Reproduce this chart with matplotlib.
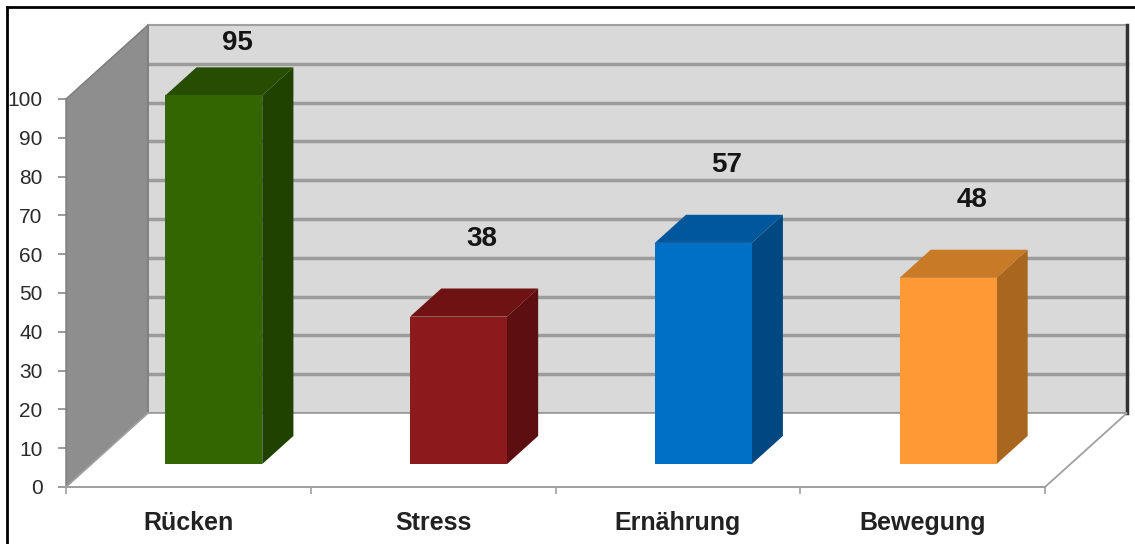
import matplotlib
matplotlib.use("Agg")
import matplotlib.pyplot as plt
from matplotlib.patches import Polygon, Rectangle
from matplotlib.lines import Line2D

categories = ["Rücken", "Stress", "Ernährung", "Bewegung"]
values = [95, 38, 57, 48]
front_colors = ["#336600", "#8c1a1c", "#0070c6", "#fd9a35"]
top_colors = ["#264d00", "#6e1214", "#00579c", "#c97a26"]
side_colors = ["#1f4200", "#5c0e10", "#00487f", "#a9661f"]
yticks = list(range(0, 101, 10))

FONT = ["Liberation Sans", "DejaVu Sans"]

fig = plt.figure(figsize=(11.35, 5.44), dpi=100)
fig.patch.set_facecolor("white")

# front plane of the 3d box
ax = fig.add_axes([66 / 1135, 57 / 544, 979 / 1135, 388 / 544])
ax.set_xlim(0, 4)
ax.set_ylim(0, 100)
ax.patch.set_alpha(0)

DX = 0.335   # depth shift in x (category units)
DY = 19.07   # depth shift in y (value units)
f1, f2 = 0.31, 0.69   # bar front / back depth
bw = 0.396

# back wall
ax.add_patch(Rectangle((DX, DY), 4, 100, facecolor="#d9d9d9", edgecolor="#a0a0a0",
                       lw=1.5, zorder=1, clip_on=False))
for v in yticks[1:-1]:
    ax.add_line(Line2D([DX, 4 + DX], [v + DY, v + DY], color="#9c9c9c", lw=2.5,
                       zorder=2, clip_on=False))
ax.add_line(Line2D([DX, 4 + DX], [DY, DY], color="#5a5a5a", lw=2, zorder=2, clip_on=False))
ax.add_line(Line2D([4 + DX, 4 + DX], [DY, 100 + DY], color="#333333", lw=2.5,
                   zorder=2, clip_on=False))

# side wall
ax.add_patch(Polygon([(0, 0), (0, 100), (DX, 100 + DY), (DX, DY)], closed=True,
                     facecolor="#8e8e8e", edgecolor="#7a7a7a", lw=1, zorder=3, clip_on=False))
# floor
ax.add_patch(Polygon([(0, 0), (4, 0), (4 + DX, DY), (DX, DY)], closed=True,
                     facecolor="white", edgecolor="#a0a0a0", lw=1.3, zorder=3, clip_on=False))

# bars
ddx = (f2 - f1) * DX
ddy = (f2 - f1) * DY
for i, v in enumerate(values):
    c = i + 0.5 + f1 * DX
    x0, x1 = c - bw / 2, c + bw / 2
    y0 = f1 * DY
    y1 = y0 + v
    ax.add_patch(Polygon([(x1, y0), (x1, y1), (x1 + ddx, y1 + ddy), (x1 + ddx, y0 + ddy)],
                         closed=True, facecolor=side_colors[i], edgecolor="none",
                         zorder=4, clip_on=False))
    ax.add_patch(Polygon([(x0, y1), (x1, y1), (x1 + ddx, y1 + ddy), (x0 + ddx, y1 + ddy)],
                         closed=True, facecolor=top_colors[i], edgecolor="none",
                         zorder=4, clip_on=False))
    ax.add_patch(Rectangle((x0, y0), bw, v, facecolor=front_colors[i], edgecolor="none",
                           zorder=5, clip_on=False))
    ly = min(v + 26, 114.5)
    ax.text(i + 0.7, ly, str(v), ha="center", va="center", fontsize=20,
            fontweight="bold", family=FONT, color="#151515", zorder=6, clip_on=False)

# axes
for s in ["top", "right", "left"]:
    ax.spines[s].set_visible(False)
ax.spines["bottom"].set_color("#a0a0a0")
ax.spines["bottom"].set_linewidth(1.3)
ax.spines["bottom"].set_zorder(3.5)

ax.set_yticks(yticks)
ax.set_yticklabels([str(t) for t in yticks], family=FONT, fontsize=15, color="#2a2a2a")
ax.tick_params(axis="y", length=6, width=1.2, color="#8a8a8a", pad=11)

ax.set_xticks(range(5))
ax.set_xticklabels([])
ax.tick_params(axis="x", which="major", length=5, width=1.2, color="#a0a0a0")
ax.set_xticks([i + 0.5 for i in range(4)], minor=True)
ax.set_xticklabels(categories, minor=True, family=FONT, fontsize=18,
                   fontweight="bold", color="#222222")
ax.tick_params(axis="x", which="minor", length=0, pad=17)

# picture frame (top and left)
fig.add_artist(Line2D([7 / 1135, 1], [1 - 7 / 544, 1 - 7 / 544], color="black", lw=2))
fig.add_artist(Line2D([7 / 1135, 7 / 1135], [0, 1 - 7 / 544], color="black", lw=2))

fig.savefig("out.png", dpi=100)
